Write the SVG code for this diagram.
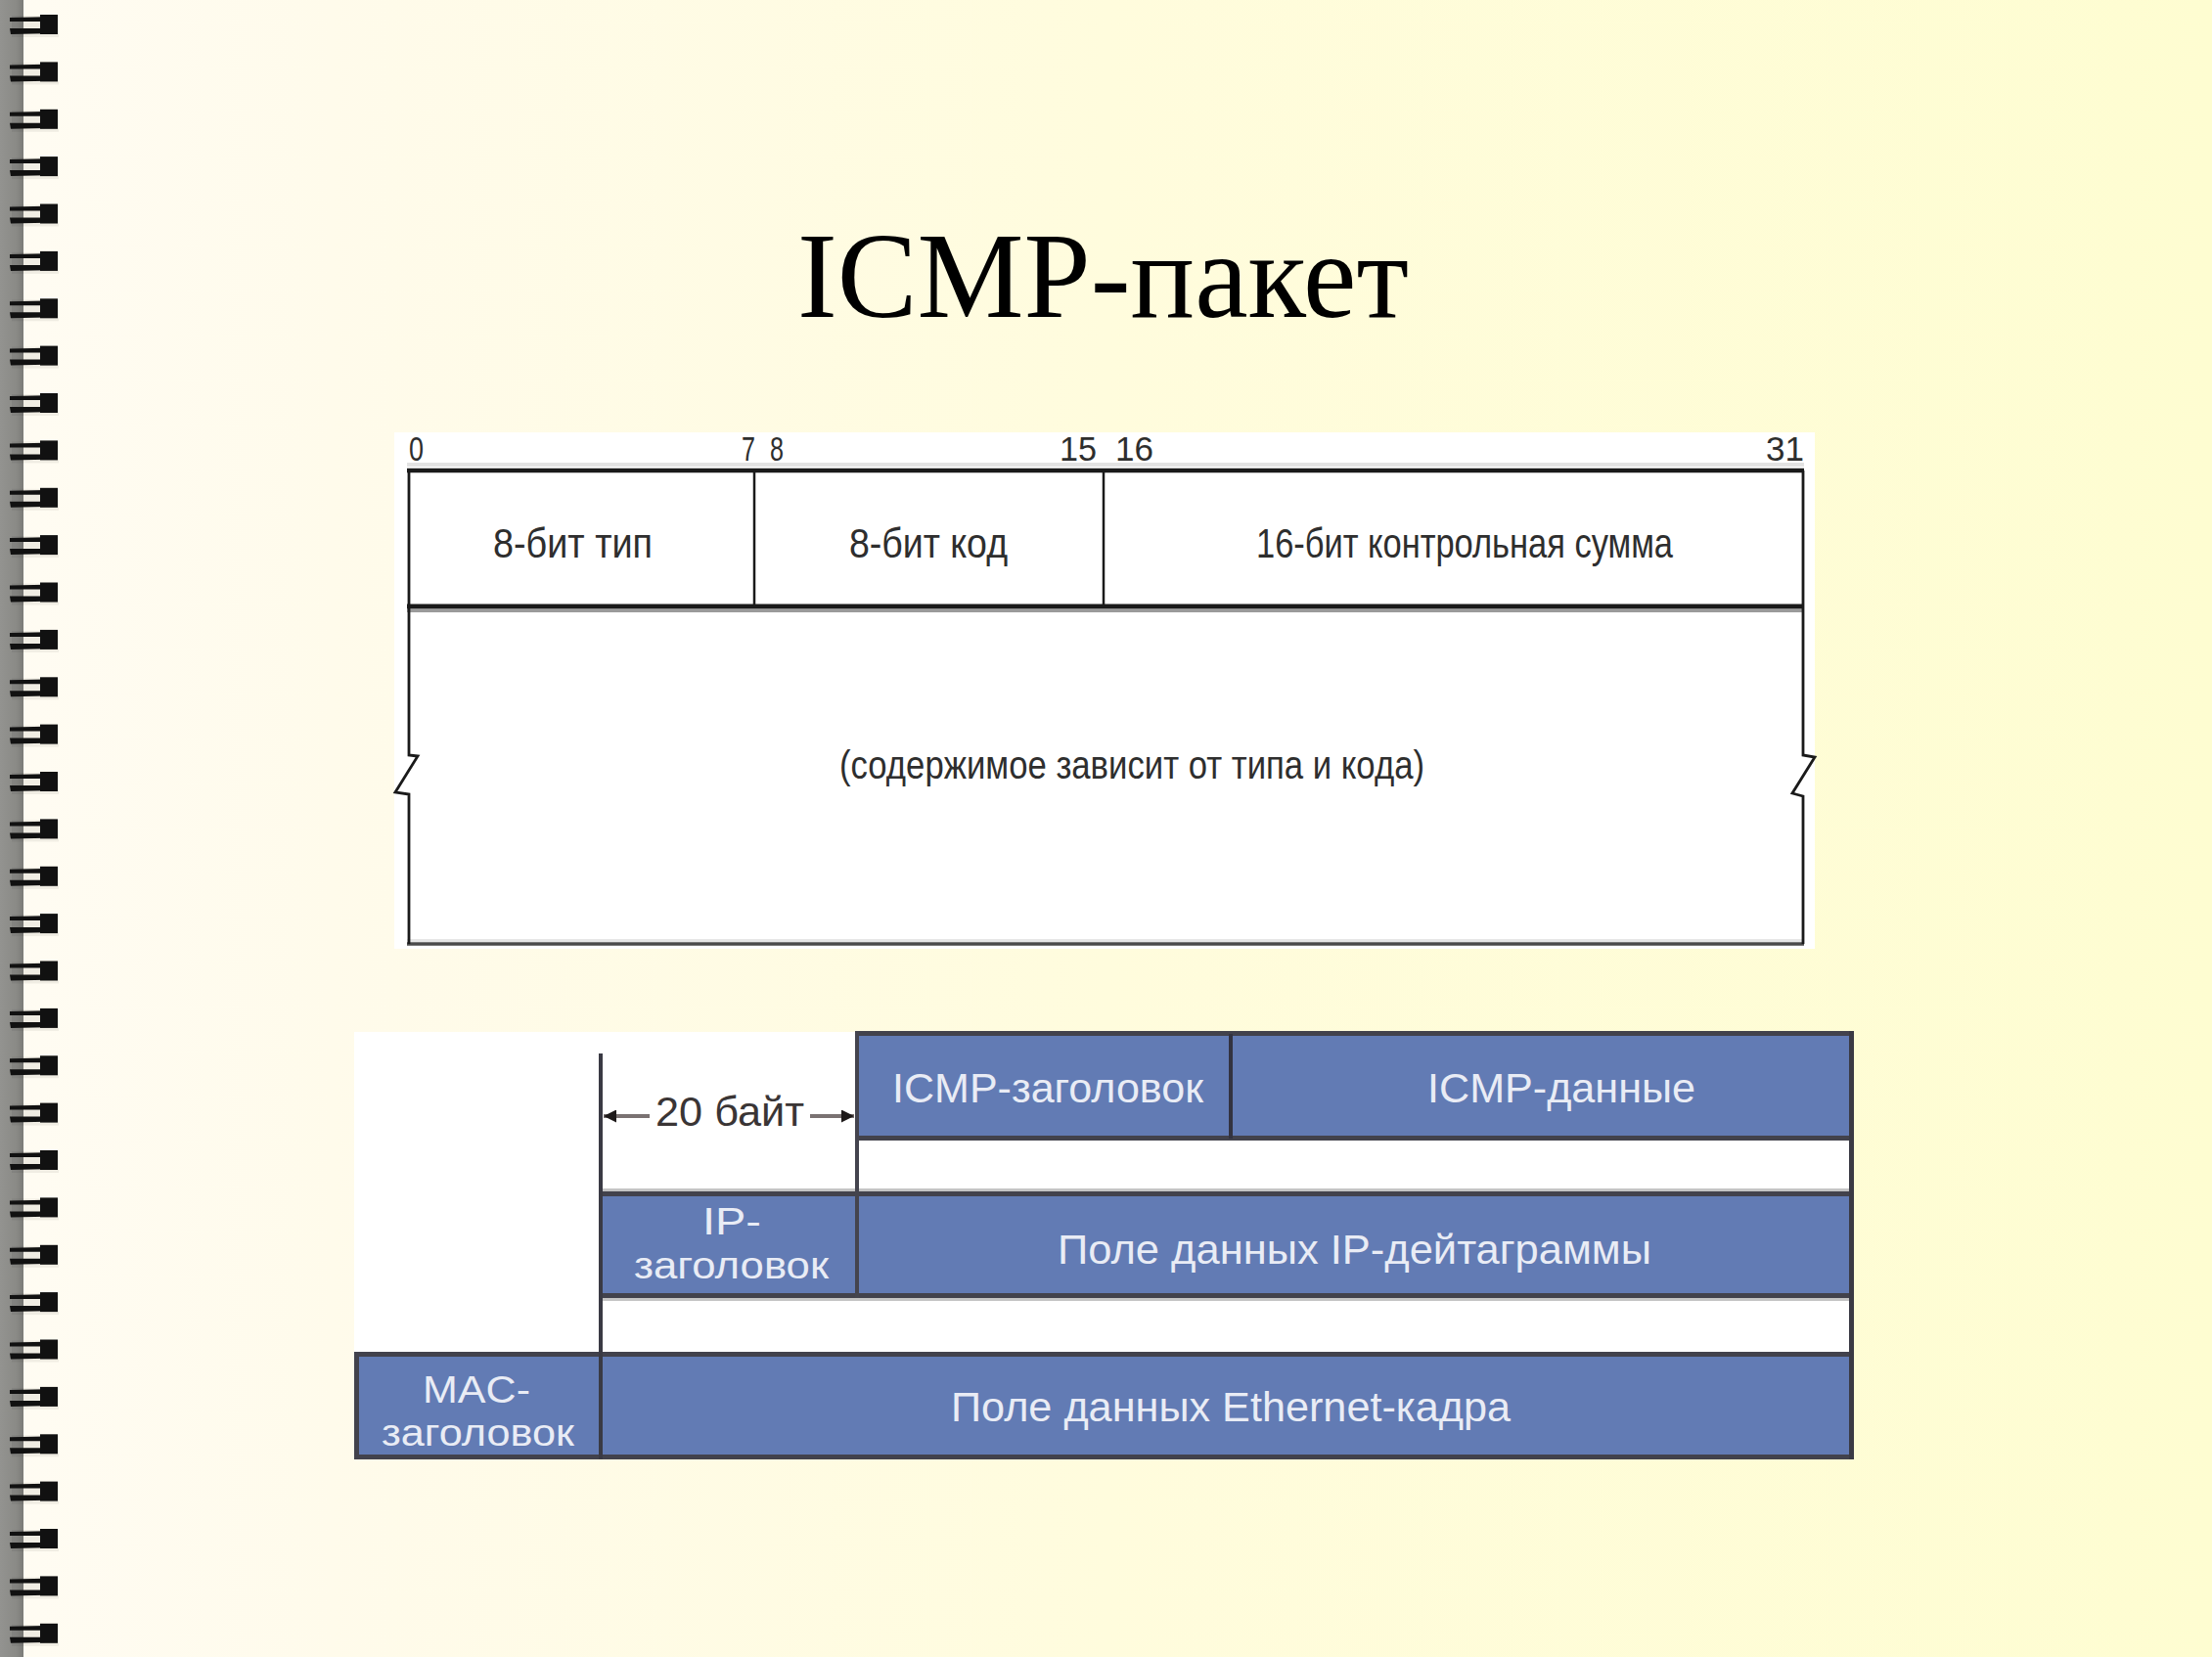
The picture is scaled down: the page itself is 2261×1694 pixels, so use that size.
<svg xmlns="http://www.w3.org/2000/svg" width="2261" height="1694" viewBox="0 0 2261 1694">
<style>
.t{font-family:"Liberation Sans",Arial,sans-serif;fill:#2e2e2e}
.w{font-family:"Liberation Sans",Arial,sans-serif;fill:#e9ecf5}
.blk{stroke:#1a1a1a;fill:none}
.dk{fill:#42424c}
.blue{fill:#627bb4}
</style>
<defs>
<linearGradient id="bg" x1="0" y1="0" x2="1" y2="0">
<stop offset="0" stop-color="#fffcf3"/>
<stop offset="0.15" stop-color="#fffbeb"/>
<stop offset="0.5" stop-color="#fffcdd"/>
<stop offset="1" stop-color="#fefdd1"/>
</linearGradient>
<linearGradient id="strip" x1="0" y1="0" x2="1" y2="0">
<stop offset="0" stop-color="#939390"/>
<stop offset="0.7" stop-color="#8a8a86"/>
<stop offset="1" stop-color="#7b7b78"/>
</linearGradient>
<g id="ring">
<rect x="12" y="1" width="48" height="22" fill="#000" opacity="0.06"/>
<path d="M10,3 L59,2 L59,7 L10,7 Z" fill="#111"/>
<path d="M10,14 L59,14 L59,19 L11,20 Z" fill="#111"/>
<rect x="41" y="0" width="18" height="20" fill="#111"/>
</g>
<marker id="ah" viewBox="0 0 10 10" refX="10" refY="5" markerWidth="17" markerHeight="13" markerUnits="userSpaceOnUse" orient="auto">
<path d="M0,0 L10,5 L0,10 Z" fill="#1e1a1a"/>
</marker>
</defs>

<rect x="0" y="0" width="2261" height="1694" fill="url(#bg)"/>
<g id="binding">
<rect x="0" y="0" width="24" height="1694" fill="url(#strip)"/>
<use href="#ring" y="15"/><use href="#ring" y="63.4"/><use href="#ring" y="111.8"/><use href="#ring" y="160.1"/><use href="#ring" y="208.5"/><use href="#ring" y="256.9"/><use href="#ring" y="305.3"/><use href="#ring" y="353.6"/><use href="#ring" y="402"/><use href="#ring" y="450.4"/><use href="#ring" y="498.8"/><use href="#ring" y="547.1"/><use href="#ring" y="595.5"/><use href="#ring" y="643.9"/><use href="#ring" y="692.3"/><use href="#ring" y="740.6"/><use href="#ring" y="789"/><use href="#ring" y="837.4"/><use href="#ring" y="885.8"/><use href="#ring" y="934.1"/><use href="#ring" y="982.5"/><use href="#ring" y="1030.9"/><use href="#ring" y="1079.3"/><use href="#ring" y="1127.6"/><use href="#ring" y="1176"/><use href="#ring" y="1224.4"/><use href="#ring" y="1272.8"/><use href="#ring" y="1321.1"/><use href="#ring" y="1369.5"/><use href="#ring" y="1417.9"/><use href="#ring" y="1466.3"/><use href="#ring" y="1514.6"/><use href="#ring" y="1563"/><use href="#ring" y="1611.4"/><use href="#ring" y="1659.8"/>
</g>

<g id="title">
<text x="815" y="324" font-family="'Liberation Serif','Times New Roman',serif" font-size="124" fill="#000" textLength="625" lengthAdjust="spacingAndGlyphs">ICMP-пакет</text>
</g>

<!-- Top: ICMP header format -->
<g id="icmp-format">
<rect x="403" y="442" width="1452" height="528" fill="#ffffff"/>
<rect x="416" y="473" width="1428" height="4" fill="#e2e2e2"/>
<rect x="416" y="960" width="1428" height="3" fill="#e6e6e6"/>
<g id="bit-numbers" font-size="35">
<text class="t" x="418" y="471" textLength="15" lengthAdjust="spacingAndGlyphs">0</text>
<text class="t" x="758" y="471" textLength="14" lengthAdjust="spacingAndGlyphs">7</text>
<text class="t" x="787" y="471" textLength="14" lengthAdjust="spacingAndGlyphs">8</text>
<text class="t" x="1083" y="471" textLength="38" lengthAdjust="spacingAndGlyphs">15</text>
<text class="t" x="1140" y="471" textLength="39" lengthAdjust="spacingAndGlyphs">16</text>
<text class="t" x="1805" y="471" textLength="39" lengthAdjust="spacingAndGlyphs">31</text>
</g>
<path class="blk" stroke-width="4.5" d="M416,481 L1844,481"/>
<path class="blk" stroke-width="5" d="M416,620 L1844,620"/>
<rect x="416" y="623" width="1428" height="3" fill="#9a9a9a"/>
<path stroke="#4a4a4a" stroke-width="3.5" fill="none" d="M416,965 L1844,965"/>
<path class="blk" stroke-width="2.5" d="M771,481 L771,620 M1128,481 L1128,620"/>
<path class="blk" stroke-width="2.8" stroke-linejoin="miter" d="M418,481 L418,772 L427,773 L404,810 L418,812 L418,965"/>
<path class="blk" stroke-width="2.8" stroke-linejoin="miter" d="M1843,481 L1843,772 L1855,774 L1832,811 L1843,814 L1843,965"/>
<g id="field-type"><text class="t" x="504" y="570" font-size="42" textLength="163" lengthAdjust="spacingAndGlyphs">8-бит тип</text></g>
<g id="field-code"><text class="t" x="868" y="570" font-size="42" textLength="162" lengthAdjust="spacingAndGlyphs">8-бит код</text></g>
<g id="field-checksum"><text class="t" x="1284" y="570" font-size="42" textLength="426" lengthAdjust="spacingAndGlyphs">16-бит контрольная сумма</text></g>
<g id="field-body"><text class="t" x="858" y="796" font-size="40" textLength="598" lengthAdjust="spacingAndGlyphs">(содержимое зависит от типа и кода)</text></g>
</g>

<!-- Bottom: encapsulation -->
<g id="encapsulation">
<rect x="362" y="1055" width="1533" height="437" fill="#ffffff"/>

<g id="icmp-row">
<rect class="blue" x="877" y="1057" width="1016" height="107"/>
<rect class="dk" x="875" y="1054" width="1020" height="5"/>
<rect class="dk" x="875" y="1161" width="1020" height="5"/>
<rect x="1256" y="1057" width="4" height="107" fill="#333340"/>
<g id="icmp-header"><text class="w" x="912" y="1127" font-size="42" textLength="318" lengthAdjust="spacingAndGlyphs">ICMP-заголовок</text></g>
<g id="icmp-data"><text class="w" x="1459" y="1127" font-size="42" textLength="274" lengthAdjust="spacingAndGlyphs">ICMP-данные</text></g>
</g>

<rect x="614" y="1215" width="1281" height="3" fill="#c4c4c4"/>
<g id="ip-row">
<rect class="blue" x="614" y="1220" width="1279" height="105"/>
<rect class="dk" x="614" y="1218" width="1281" height="5"/>
<rect class="dk" x="614" y="1322" width="1281" height="5"/>
<g id="ip-header">
<text class="w" x="718" y="1262" font-size="38" textLength="60" lengthAdjust="spacingAndGlyphs">IP-</text>
<text class="w" x="648" y="1307" font-size="38" textLength="199" lengthAdjust="spacingAndGlyphs">заголовок</text>
</g>
<g id="ip-data"><text class="w" x="1081" y="1292" font-size="42" textLength="607" lengthAdjust="spacingAndGlyphs">Поле данных IP-дейтаграммы</text></g>
</g>
<rect x="614" y="1327" width="1281" height="3" fill="#c4c4c4"/>

<g id="mac-row">
<rect class="blue" x="362" y="1385" width="1531" height="105"/>
<rect class="dk" x="362" y="1382" width="1533" height="5"/>
<rect class="dk" x="362" y="1487" width="1533" height="5"/>
<rect class="dk" x="362" y="1382" width="5" height="110"/>
<g id="mac-header">
<text class="w" x="432" y="1434" font-size="38" textLength="110" lengthAdjust="spacingAndGlyphs">MAC-</text>
<text class="w" x="390" y="1478" font-size="38" textLength="197" lengthAdjust="spacingAndGlyphs">заголовок</text>
</g>
<g id="ethernet-data"><text class="w" x="972" y="1453" font-size="42" textLength="572" lengthAdjust="spacingAndGlyphs">Поле данных Ethernet-кадра</text></g>
</g>

<rect x="1890" y="1054" width="5" height="438" fill="#3a3a44"/>
<rect x="612" y="1077" width="4" height="415" fill="#3a3a44"/>
<rect x="874" y="1054" width="4" height="273" fill="#44444e"/>
</g>

<g id="connectors">
<path d="M664,1141 L617,1141" stroke="#7a7272" stroke-width="4" fill="none" marker-end="url(#ah)"/>
<path d="M828,1141 L873,1141" stroke="#7a7272" stroke-width="4" fill="none" marker-end="url(#ah)"/>
<g id="size-label"><text x="670" y="1151" font-family="'Liberation Sans',Arial,sans-serif" font-size="42" fill="#3a3535" textLength="152" lengthAdjust="spacingAndGlyphs">20 байт</text></g>
</g>
</svg>
